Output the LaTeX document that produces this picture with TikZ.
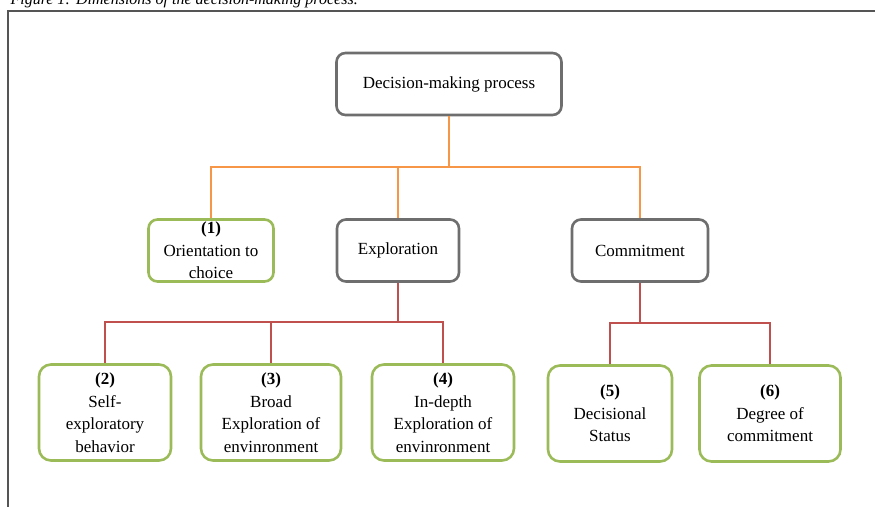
\documentclass[tikz,border=0pt]{standalone}
\usepackage{fontspec}
\setmainfont{Liberation Serif}
\usetikzlibrary{positioning}
\definecolor{boxgray}{HTML}{6E6E6E}
\definecolor{boxgreen}{HTML}{9BBB59}
\definecolor{linkorange}{HTML}{F79646}
\definecolor{linkred}{HTML}{C0504D}
\definecolor{framegray}{HTML}{555555}
\tikzstyle{mainbox}=[draw=boxgray, line width=2.6pt, rounded corners=9pt, fill=white, align=center, inner sep=0pt, minimum height=62pt]
\tikzstyle{dimbox}=[draw=boxgreen, line width=2.6pt, rounded corners=12pt, fill=white, align=center, inner sep=0pt, minimum height=96pt]
\tikzstyle{toplink}=[linkorange, line width=1.8pt]
\tikzstyle{sublink}=[linkred, line width=1.8pt]
\tikzstyle{frame}=[framegray, line width=2pt]

\begin{document}
\begin{tikzpicture}[x=1pt, y=-1pt, font=\fontsize{17}{22.5}\selectfont]
    \clip (0,0) rectangle (875,506);
    \draw[frame] (7.5,520) -- (7.5,11) -- (890,11);
    \node[anchor=base west, font=\fontsize{16}{19}\selectfont\itshape] (caption) at (7,5)
      {Figure 1: Dimensions of the decision-making process.};

    % top level
    \node[mainbox, minimum width=225pt] (dm) at (449,84) {Decision-making process};
    \node[dimbox, minimum width=125pt, minimum height=62pt, rounded corners=9pt] (d1) at (211,250.5)
      {\textbf{(1)}\\Orientation to\\choice};
    \node[mainbox, minimum width=122pt] (expl) at (398,250.5) {Exploration};
    \node[mainbox, minimum width=136pt] (comm) at (640,250.5) {Commitment};

    % dimensions
    \node[dimbox, minimum width=132pt] (d2) at (105,412.5) {\textbf{(2)}\\Self-\\exploratory\\behavior};
    \node[dimbox, minimum width=140pt] (d3) at (271,412.5) {\textbf{(3)}\\Broad\\Exploration of\\envinronment};
    \node[dimbox, minimum width=142pt] (d4) at (443,412.5) {\textbf{(4)}\\In-depth\\Exploration of\\envinronment};
    \node[dimbox, minimum width=124pt] (d5) at (610,413.5) {\textbf{(5)}\\Decisional\\Status};
    \node[dimbox, minimum width=141pt] (d6) at (770,413.5) {\textbf{(6)}\\Degree of\\commitment};

    \coordinate (bus1) at (449,167);
    \coordinate (bus2) at (398,322);
    \coordinate (bus3) at (640,323);

    \draw[toplink] (dm) -- (bus1);
    \draw[toplink] (bus1) -| (d1);
    \draw[toplink] (bus1) -| (expl);
    \draw[toplink] (bus1) -| (comm);

    \draw[sublink] (expl) -- (bus2);
    \draw[sublink] (bus2) -| (d2);
    \draw[sublink] (bus2) -| (d3);
    \draw[sublink] (bus2) -| (d4);

    \draw[sublink] (comm) -- (bus3);
    \draw[sublink] (bus3) -| (d5);
    \draw[sublink] (bus3) -| (d6);
\end{tikzpicture}
\end{document}
